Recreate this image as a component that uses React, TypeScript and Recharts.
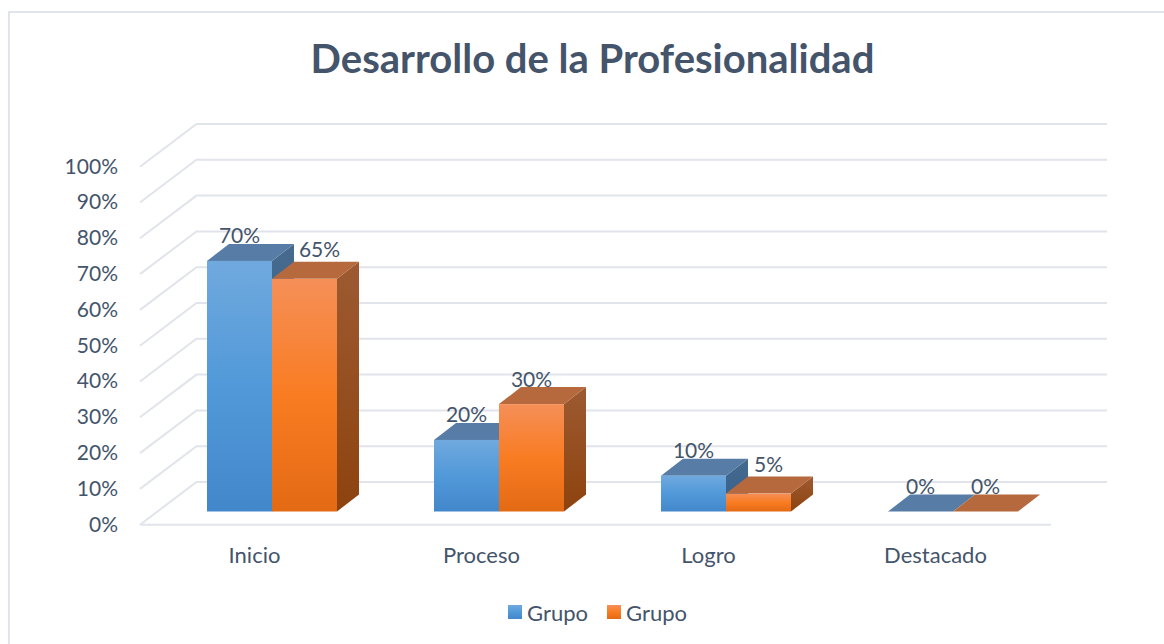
import React from "react";
import { BarChart, Bar, XAxis, YAxis, Legend, LabelList, CartesianGrid } from "recharts";

const categories = ["Inicio", "Proceso", "Logro", "Destacado"];
const serieA = [70, 20, 10, 0];
const serieB = [65, 30, 5, 0];
const yTicks = [0, 10, 20, 30, 40, 50, 60, 70, 80, 90, 100];
const seriesNames = ["Grupo", "Grupo"];
const titleText = "Desarrollo de la Profesionalidad";

const rows = categories.map((name, i) => ({ name, a: serieA[i], b: serieB[i] }));

const FONT = "Lato, sans-serif";
const INK = "#44546A";
const GRID = "#E1E4EB";
const DX = 22;
const DY = 17;
const BOTTOM_Y = 511.5;

type Palette = { id: string; stops: [string, string, string]; top: string; side: [string, string] };
const BLUE: Palette = { id: "blue", stops: ["#70A9DE", "#5199D9", "#4387CB"], top: "#577DA7", side: ["#466A8E", "#345F8C"] };
const ORANGE: Palette = { id: "orange", stops: ["#F58F58", "#F97C22", "#E36A14"], top: "#B5693D", side: ["#9D5A31", "#8D430E"] };

const Bar3D = (pal: Palette) => (props: any) => {
  const { x, y, width, height, index } = props;
  const gid = `f-${pal.id}-${index}`;
  const sid = `s-${pal.id}-${index}`;
  return (
    <g>
      <defs>
        <linearGradient id={gid} x1="0" y1="0" x2="0" y2="1">
          <stop offset="0" stopColor={pal.stops[0]} />
          <stop offset="0.5" stopColor={pal.stops[1]} />
          <stop offset="1" stopColor={pal.stops[2]} />
        </linearGradient>
        <linearGradient id={sid} x1="0" y1="0" x2="0" y2="1">
          <stop offset="0" stopColor={pal.side[0]} />
          <stop offset="1" stopColor={pal.side[1]} />
        </linearGradient>
      </defs>
      {height > 0 && (
        <path d={`M${x + width},${y} l${DX},${-DY} v${height} l${-DX},${DY} z`} fill={`url(#${sid})`} />
      )}
      <path d={`M${x},${y} l${DX},${-DY} h${width} l${-DX},${DY} z`} fill={pal.top} />
      {height > 0 && <rect x={x} y={y} width={width} height={height} fill={`url(#${gid})`} />}
    </g>
  );
};

const WallLine = (props: any) => {
  const y = props.y1;
  return (
    <g key={props.key}>
      <polyline points={`140,${y + 13.2} 196.5,${y - 29.5} 1107,${y - 29.5}`} fill="none" stroke={GRID} strokeWidth={2} />
      {Math.abs(y - BOTTOM_Y) < 1 && <line x1={140} x2={1051} y1={y + 13.2} y2={y + 13.2} stroke={GRID} strokeWidth={2} />}
    </g>
  );
};

const YTick = (props: any) => {
  const { y, payload } = props;
  return (
    <text x={118} y={y + 11.5} textAnchor="end" dominantBaseline="central" fontFamily={FONT} fontSize={21} fill={INK}>
      {payload.value}%
    </text>
  );
};

const XTick = (props: any) => {
  const { x, payload } = props;
  return (
    <text x={x - 17} y={554} textAnchor="middle" dominantBaseline="central" fontFamily={FONT} fontSize={22} fill={INK}>
      {payload.value}
    </text>
  );
};

const ValueLabel = (series: "a" | "b") => (props: any) => {
  const { x, y, width, value, index } = props;
  const shifted = series === "b" && (index === 0 || index === 2);
  const dx = shifted ? (index === 0 ? 15 : 10) : 0;
  const dy = shifted ? -30 : -26;
  return (
    <text x={x + width / 2 + dx} y={y + dy} textAnchor="middle" dominantBaseline="central" fontFamily={FONT} fontSize={21} fill={INK}>
      {value}%
    </text>
  );
};

const LegendBox = () => {
  const fills = [BLUE, ORANGE];
  return (
    <div style={{ display: "flex", fontFamily: FONT, fontSize: 22, color: INK, height: 24, alignItems: "center" }}>
      {seriesNames.map((n, i) => (
        <div key={i} style={{ display: "flex", alignItems: "center", marginRight: 19 }}>
          <span
            style={{
              width: 14,
              height: 14,
              marginRight: 5,
              background: `linear-gradient(${fills[i].stops[0]}, ${fills[i].stops[1]} 50%, ${fills[i].stops[2]})`,
            }}
          />
          {n}
        </div>
      ))}
    </div>
  );
};

export default function App() {
  return (
    <div style={{ position: "absolute", left: 0, top: 0, width: 1164, height: 644, background: "#fff", overflow: "hidden" }}>
      <div style={{ position: "absolute", left: 8, top: 11, right: -4, bottom: -4, borderLeft: `2px solid ${GRID}`, borderTop: `2px solid ${GRID}` }} />
      <div
        style={{
          position: "absolute",
          left: 0,
          width: 1185,
          top: 34,
          textAlign: "center",
          fontFamily: FONT,
          fontWeight: 700,
          fontSize: 40,
          lineHeight: "48px",
          color: INK,
        }}
      >
        {titleText}
      </div>
      <div style={{ position: "absolute", left: 0, top: 0 }}>
        <BarChart
          width={1164}
          height={644}
          data={rows}
          barSize={65}
          barGap={0}
          margin={{ top: 153.5, right: 98, left: 98, bottom: 68.5 }}
        >
          <CartesianGrid vertical={false} horizontal={WallLine} />
          <XAxis dataKey="name" axisLine={false} tickLine={false} height={40} tick={XTick} interval={0} />
          <YAxis type="number" domain={[0, 100]} ticks={yTicks} width={60} axisLine={false} tickLine={false} tick={YTick} interval={0} />
          <Bar dataKey="a" name={seriesNames[0]} shape={Bar3D(BLUE)} isAnimationActive={false}>
            <LabelList dataKey="a" content={ValueLabel("a")} />
          </Bar>
          <Bar dataKey="b" name={seriesNames[1]} shape={Bar3D(ORANGE)} isAnimationActive={false}>
            <LabelList dataKey="b" content={ValueLabel("b")} />
          </Bar>
          <Legend content={LegendBox} wrapperStyle={{ left: 508, top: 600, width: 240, height: 24 }} />
        </BarChart>
      </div>
    </div>
  );
}
